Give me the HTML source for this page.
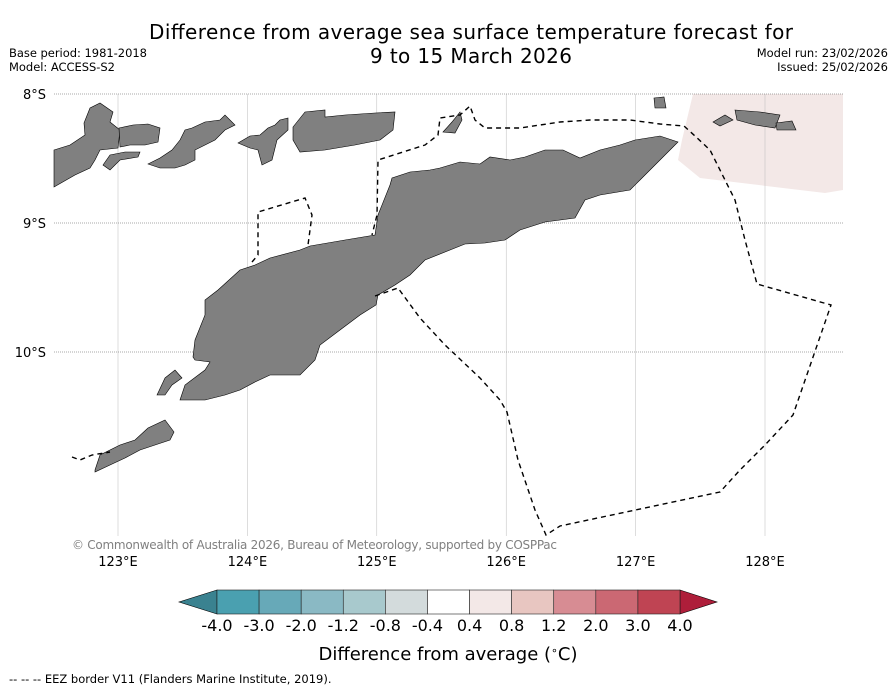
<!DOCTYPE html>
<html><head><meta charset="utf-8">
<style>
body{margin:0;background:#fff;}
svg{display:block;font-family:"DejaVu Sans","Liberation Sans",sans-serif;}
</style></head>
<body>
<svg id="chart" width="896" height="690" viewBox="0 0 896 690">
  <text x="471" y="39" font-size="20" text-anchor="middle" fill="#000" textLength="644">Difference from average sea surface temperature forecast for</text>
  <text x="471" y="63" font-size="20" text-anchor="middle" fill="#000" textLength="202">9 to 15 March 2026</text>
  <text x="9" y="57" font-size="11.5" textLength="138">Base period: 1981-2018</text>
  <text x="9" y="71" font-size="11.5" textLength="106">Model: ACCESS-S2</text>
  <text x="888" y="57" font-size="11.5" text-anchor="end">Model run: 23/02/2026</text>
  <text x="888" y="71" font-size="11.5" text-anchor="end">Issued: 25/02/2026</text>

  <g id="map">
    <polygon fill="#f3e8e7" points="693,94 843,94 843,190 825,193 700,178 678,160 682,140"/>
    <g id="grid"></g>
    <g fill="#808080" stroke="#000" stroke-width="0.6">
      <polygon points="193,357 195,340 205,315 205,300 218,290 240,270 255,265 270,258 300,250 310,246 345,240 375,235 378,215 390,185 392,178 410,172 430,170 440,168 460,162 480,164 490,157 510,160 525,157 545,150 563,150 580,158 600,150 620,145 635,140 660,136 678,142 660,160 640,180 630,190 600,195 585,200 575,218 545,222 520,230 505,240 485,243 465,244 450,250 425,260 410,275 395,285 378,295 376,305 360,315 340,330 320,345 315,360 300,375 270,375 255,382 240,390 225,395 205,400 180,400 185,385 205,370 210,362 195,360"/>
      <polygon points="54,150 70,145 85,135 84,123 90,108 100,103 113,112 110,122 120,130 118,148 100,150 95,160 90,168 75,175 54,187"/>
      <polygon points="119,128 133,125 148,124 160,128 158,142 145,145 130,145 120,147"/>
      <polygon points="103,165 110,155 125,152 140,152 138,157 120,160 110,170"/>
      <polygon points="148,164 160,158 172,150 180,140 185,130 192,128 205,122 220,120 225,115 235,125 225,130 215,140 195,150 195,160 185,165 175,168 160,168"/>
      <polygon points="238,143 250,136 260,135 268,128 275,125 280,120 288,118 288,130 277,140 272,160 262,165 258,150 250,148"/>
      <polygon points="293,127 305,112 325,110 325,117 345,115 375,113 395,112 393,130 380,140 355,145 325,150 300,152 293,140"/>
      <polygon points="654,98 664,97 666,108 655,108"/>
      <polygon points="735,110 760,112 780,115 775,128 755,125 737,120"/>
      <polygon points="776,123 792,121 796,130 777,130"/>
      <polygon points="713,122 725,115 733,120 720,126"/>
      <polygon points="443,132 452,122 460,112 462,120 455,133"/>
      <polygon points="157,395 165,378 175,370 182,378 172,385 165,395"/>
      <polygon points="95,470 100,455 120,445 135,440 148,428 165,420 174,432 170,440 155,445 140,450 125,458 110,465 95,472"/>
    </g>
    <g fill="none" stroke="#000" stroke-width="1.4" stroke-dasharray="5,4">
      <polyline points="375,296 398,288 420,318 445,345 480,378 500,400 507,412 518,460 535,510 546,535 560,526 720,492 740,470 765,445 793,415 831,305 757,284 745,240 735,200 710,150 695,136 684,126 660,124 630,120 590,120 560,122 520,128 485,128 475,120 470,106 460,115 440,118 438,135 425,145 378,160 377,215 372,235"/>
      <polyline points="252,262 258,255 258,212 305,198 312,215 308,245"/>
      <polyline points="72,457 80,460 92,455 110,452"/>
    </g>
    <text x="72" y="549" font-size="12" fill="#808080" textLength="485">© Commonwealth of Australia 2026, Bureau of Meteorology, supported by COSPPac</text>
  </g>

  <g id="colorbar"></g>
  <text x="448" y="660" font-size="18" text-anchor="middle">Difference from average (<tspan baseline-shift="super" font-size="11">∘</tspan>C)</text>
  <text x="9" y="683" font-size="11.5">--  --  -- EEZ border V11 (Flanders Marine Institute, 2019).</text>
</svg>
<script>
const lonTicks = [123, 124, 125, 126, 127, 128];
const latTicks = [8, 9, 10];
const binEdges = ["-4.0","-3.0","-2.0","-1.2","-0.8","-0.4","0.4","0.8","1.2","2.0","3.0","4.0"];
const binColors = ["#4aa0b0","#67a9b8","#8ab9c4","#a8c9cd","#d3dbdc","#ffffff","#f3e8e7","#e8c6c1","#d78c93","#cb6873","#bf4453"];
const extendColors = ["#3a8290","#ae1e3a"];

const NS = "http://www.w3.org/2000/svg";
const xLon = lon => 118 + (lon - 123) * 129.4;
const yLat = lat => 94 + (lat - 8) * 129;
const mapL = 54, mapR = 843, mapT = 94, mapB = 536;
function mk(tag, attrs, parent){const e=document.createElementNS(NS,tag);for(const k in attrs)e.setAttribute(k,attrs[k]);parent.appendChild(e);return e;}

const grid = document.getElementById('grid');
lonTicks.forEach(lon=>{
  const l = mk('line',{x1:xLon(lon),x2:xLon(lon),y1:mapT,y2:mapB,stroke:'#bbb','stroke-width':0.5},grid);
  
  
  const t = mk('text',{x:xLon(lon),y:566,'font-size':13,'text-anchor':'middle'},document.getElementById('chart'));
  t.textContent = lon + '°E';
  
  
});
latTicks.forEach(lat=>{
  const l = mk('line',{x1:mapL,x2:mapR,y1:yLat(lat),y2:yLat(lat),stroke:'#555','stroke-width':0.5,'stroke-dasharray':'1,1'},grid);
  
  
  const t = mk('text',{x:46,y:yLat(lat)+5,'font-size':13,'text-anchor':'end'},document.getElementById('chart'));
  t.textContent = lat + '°S';
  
  
});

const cb = document.getElementById('colorbar');
const cbL = 217, cbR = 680, cbT = 590, cbB = 614;
const segW = (cbR - cbL) / binColors.length;
const lt = mk('polygon',{points:`${cbL},${cbT} ${cbL},${cbB} 179,${(cbT+cbB)/2}`,fill:extendColors[0],stroke:'#000','stroke-width':0.6},cb);


const rt = mk('polygon',{points:`${cbR},${cbT} ${cbR},${cbB} 717,${(cbT+cbB)/2}`,fill:extendColors[1],stroke:'#000','stroke-width':0.6},cb);


binColors.forEach((c,i)=>{
  const r = mk('rect',{x:cbL+i*segW,y:cbT,width:segW,height:cbB-cbT,fill:c,stroke:'#222','stroke-width':0.6},cb);
  
  
});
binEdges.forEach((v,i)=>{
  const t = mk('text',{x:cbL+i*segW,y:631,'font-size':16,'text-anchor':'middle'},cb);
  t.textContent = v;
  
  
});
</script>
</body></html>
